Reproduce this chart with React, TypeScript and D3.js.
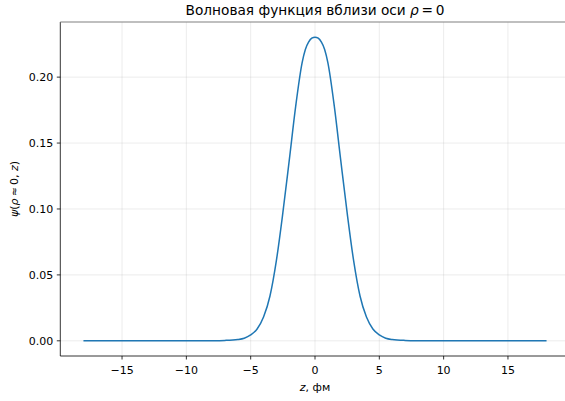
import React, { useEffect, useRef } from 'react';
import * as d3 from 'd3';

// values (z in fm, psi)
const zValues = [
  -18, -14, -10, -8, -7, -6, -5.5, -5, -4.5, -4, -3.5, -3, -2.5, -2, -1.5, -1, -0.75, -0.5, -0.25,
  0, 0.25, 0.5, 0.75, 1, 1.5, 2, 2.5, 3, 3.5, 4, 4.5, 5, 5.5, 6, 7, 8, 10, 14, 18,
];
const psiValues = [
  0, 0, 0, 0.0001, 0.0003, 0.001, 0.002, 0.0045, 0.009, 0.018, 0.034, 0.061, 0.097, 0.137, 0.178, 0.211, 0.221, 0.2265, 0.2295,
  0.2303, 0.2295, 0.2265, 0.221, 0.211, 0.178, 0.137, 0.097, 0.061, 0.034, 0.018, 0.009, 0.0045, 0.002, 0.001, 0.0003, 0.0001, 0, 0, 0,
];
const xTicks = [-15, -10, -5, 0, 5, 10, 15];
const yTicks = [0, 0.05, 0.1, 0.15, 0.2];

const W = 565;
const H = 401;

const App = () => {
  const svgRef = useRef<SVGSVGElement>(null);

  useEffect(() => {
    document.body.style.margin = '0';
    const svg = d3.select(svgRef.current);
    svg.selectAll('*').remove();

    const margin = { left: 60.3, top: 22, bottom: 356 };
    const x = d3.scaleLinear().domain([-19.8, 19.8]).range([margin.left, 569.7]);
    const y = d3.scaleLinear().domain([-0.01152, 0.24182]).range([margin.bottom, margin.top]);

    const font = 'DejaVu Sans, sans-serif';
    const minus = (s: string) => s.replace('-', '\u2212');

    // grid
    const grid = svg.append('g');
    grid.selectAll('.gx').data(xTicks).join('line')
      .attr('x1', d => x(d)).attr('x2', d => x(d))
      .attr('y1', margin.top).attr('y2', margin.bottom)
      .attr('stroke', '#b0b0b0').attr('stroke-opacity', 0.3).attr('stroke-width', 0.8);
    grid.selectAll('.gy').data(yTicks).join('line')
      .attr('x1', margin.left).attr('x2', W)
      .attr('y1', d => y(d)).attr('y2', d => y(d))
      .attr('stroke', '#b0b0b0').attr('stroke-opacity', 0.3).attr('stroke-width', 0.8);

    // curve
    const pts = zValues.map((z, i) => [z, psiValues[i]] as [number, number]);
    const line = d3.line<[number, number]>()
      .x(d => x(d[0])).y(d => y(d[1]))
      .curve(d3.curveMonotoneX);
    svg.append('path').attr('d', line(pts))
      .attr('fill', 'none').attr('stroke', '#1f77b4').attr('stroke-width', 1.5);

    // spines
    svg.append('line').attr('x1', margin.left).attr('x2', margin.left)
      .attr('y1', margin.top).attr('y2', margin.bottom).attr('stroke', '#000').attr('stroke-width', 0.8);
    svg.append('line').attr('x1', margin.left).attr('x2', W)
      .attr('y1', margin.bottom).attr('y2', margin.bottom).attr('stroke', '#000').attr('stroke-width', 0.8);
    svg.append('line').attr('x1', margin.left).attr('x2', W)
      .attr('y1', margin.top).attr('y2', margin.top).attr('stroke', '#808080').attr('stroke-width', 1.2);

    // x ticks
    const xa = svg.append('g');
    xa.selectAll('line').data(xTicks).join('line')
      .attr('x1', d => x(d)).attr('x2', d => x(d))
      .attr('y1', margin.bottom).attr('y2', margin.bottom + 3.5)
      .attr('stroke', '#000').attr('stroke-width', 0.8);
    xa.selectAll('text').data(xTicks).join('text')
      .attr('x', d => x(d)).attr('y', margin.bottom + 17.5)
      .attr('text-anchor', 'middle').attr('font-family', font).attr('font-size', 11)
      .text(d => minus(String(d)));

    // y ticks
    const ya = svg.append('g');
    ya.selectAll('line').data(yTicks).join('line')
      .attr('x1', margin.left - 3.5).attr('x2', margin.left)
      .attr('y1', d => y(d)).attr('y2', d => y(d))
      .attr('stroke', '#000').attr('stroke-width', 0.8);
    ya.selectAll('text').data(yTicks).join('text')
      .attr('x', margin.left - 7).attr('y', d => y(d) + 4)
      .attr('text-anchor', 'end').attr('font-family', font).attr('font-size', 11)
      .text(d => d3.format('.2f')(d));

    // title
    const title = svg.append('text').attr('x', 315).attr('y', 15)
      .attr('text-anchor', 'middle').attr('font-family', font).attr('font-size', 13.7);
    title.append('tspan').text('Волновая функция вблизи оси ');
    title.append('tspan').attr('font-style', 'italic').text('ρ');
    title.append('tspan').text('\u2009=\u20090');

    // x label
    const xl = svg.append('text').attr('x', 315).attr('y', 391)
      .attr('text-anchor', 'middle').attr('font-family', font).attr('font-size', 11);
    xl.append('tspan').attr('font-style', 'italic').text('z');
    xl.append('tspan').text(', фм');

    // y label
    const yl = svg.append('text')
      .attr('transform', `translate(18,${(margin.top + margin.bottom) / 2}) rotate(-90)`)
      .attr('text-anchor', 'middle').attr('font-family', font).attr('font-size', 11);
    yl.append('tspan').attr('font-style', 'italic').text('ψ');
    yl.append('tspan').text('(');
    yl.append('tspan').attr('font-style', 'italic').text('ρ');
    yl.append('tspan').text('\u2009≈\u20090, ');
    yl.append('tspan').attr('font-style', 'italic').text('z');
    yl.append('tspan').text(')');
  }, []);

  return (
    <svg ref={svgRef} width={W} height={H}
      style={{ position: 'absolute', left: 0, top: 0, background: '#fff' }} />
  );
};

export default App;
